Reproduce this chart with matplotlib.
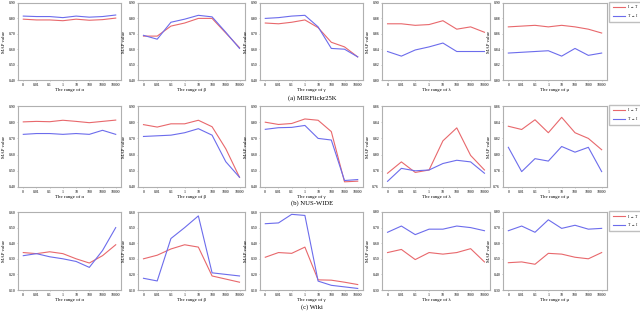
#!/usr/bin/python3
# -*- coding: utf-8 -*-

# parameter sensitivity: 3 datasets x 5 parameters

import matplotlib
matplotlib.use('Agg')
import matplotlib.pyplot as plt

x_labels = ['0', '0.01', '0.1', '1', '10', '100', '1000', '10000']
params = ['α', 'β', 'γ', 'λ', 'μ']
captions = ['(a) MIRFlickr25K', '(b) NUS-WIDE', '(c) Wiki']

# MIRFlickr25K
mir_i2t = [
    [0.795, 0.790, 0.790, 0.785, 0.795, 0.788, 0.792, 0.802],
    [0.685, 0.685, 0.750, 0.770, 0.800, 0.800, 0.705, 0.610],
    [0.770, 0.765, 0.775, 0.790, 0.740, 0.645, 0.615, 0.550],
    [0.873, 0.873, 0.871, 0.872, 0.877, 0.866, 0.869, 0.862],
    [0.869, 0.870, 0.871, 0.869, 0.871, 0.869, 0.866, 0.861],
]
mir_t2i = [
    [0.815, 0.812, 0.812, 0.805, 0.815, 0.808, 0.812, 0.822],
    [0.690, 0.665, 0.775, 0.795, 0.820, 0.810, 0.710, 0.605],
    [0.800, 0.805, 0.815, 0.820, 0.745, 0.605, 0.600, 0.550],
    [0.837, 0.831, 0.839, 0.843, 0.848, 0.837, 0.837, 0.837],
    [0.835, 0.836, 0.837, 0.838, 0.831, 0.841, 0.832, 0.835],
]
# NUS-WIDE
nus_i2t = [
    [0.802, 0.805, 0.803, 0.812, 0.805, 0.797, 0.805, 0.813],
    [0.785, 0.770, 0.790, 0.790, 0.812, 0.772, 0.636, 0.460],
    [0.800, 0.786, 0.792, 0.820, 0.812, 0.742, 0.432, 0.436],
    [0.777, 0.791, 0.778, 0.781, 0.817, 0.833, 0.799, 0.781],
    [0.835, 0.831, 0.843, 0.827, 0.846, 0.827, 0.820, 0.806],
]
nus_t2i = [
    [0.725, 0.730, 0.730, 0.725, 0.730, 0.725, 0.750, 0.725],
    [0.712, 0.716, 0.720, 0.735, 0.760, 0.720, 0.556, 0.460],
    [0.756, 0.766, 0.768, 0.780, 0.700, 0.690, 0.440, 0.446],
    [0.767, 0.783, 0.780, 0.781, 0.789, 0.793, 0.791, 0.777],
    [0.809, 0.779, 0.795, 0.792, 0.810, 0.803, 0.809, 0.779],
]
# Wiki
wiki_i2t = [
    [0.340, 0.333, 0.345, 0.333, 0.300, 0.273, 0.320, 0.390],
    [0.300, 0.323, 0.363, 0.390, 0.375, 0.190, 0.170, 0.150],
    [0.310, 0.340, 0.335, 0.375, 0.165, 0.163, 0.150, 0.135],
    [0.540, 0.560, 0.495, 0.540, 0.530, 0.540, 0.565, 0.480],
    [0.475, 0.480, 0.465, 0.535, 0.530, 0.510, 0.500, 0.540],
]
wiki_t2i = [
    [0.320, 0.333, 0.313, 0.300, 0.283, 0.245, 0.353, 0.500],
    [0.175, 0.158, 0.430, 0.500, 0.575, 0.210, 0.200, 0.190],
    [0.525, 0.530, 0.585, 0.578, 0.157, 0.130, 0.120, 0.110],
    [0.670, 0.710, 0.655, 0.690, 0.690, 0.710, 0.700, 0.680],
    [0.680, 0.710, 0.670, 0.750, 0.695, 0.715, 0.690, 0.695],
]

y_ranges = [
    [(0.40, 0.90, 0.10)] * 3 + [(0.80, 0.90, 0.02)] * 2,
    [(0.40, 0.90, 0.10)] * 3 + [(0.76, 0.86, 0.02)] * 2,
    [(0.10, 0.60, 0.10)] * 3 + [(0.30, 0.80, 0.10)] * 2,
]

RED = '#e8686c'
BLUE = '#6c6cec'
W, H = 640.0, 321.0


def px_axes(fig, left, top, width, height):
    return fig.add_axes([left / W, 1 - (top + height) / H, width / W, height / H])


def main():
    plt.rcParams['font.family'] = ['Liberation Serif', 'DejaVu Serif']

    fig = plt.figure(figsize=(6.4, 3.21), dpi=100)

    lefts = [18, 138, 260, 382, 503]
    widths = [103, 107, 103, 108, 104]
    tops = [3, 106, 212]
    heights = [77, 81, 78]
    cap_y = [98, 203, 307]

    i2t_all = [mir_i2t, nus_i2t, wiki_i2t]
    t2i_all = [mir_t2i, nus_t2i, wiki_t2i]

    xs = list(range(len(x_labels)))
    for r in range(3):
        for c in range(5):
            ax = px_axes(fig, lefts[c], tops[r], widths[c], heights[r])
            l1, = ax.plot(xs, i2t_all[r][c], color=RED, lw=0.8)
            l2, = ax.plot(xs, t2i_all[r][c], color=BLUE, lw=0.8)
            lo, hi, st = y_ranges[r][c]
            ax.set_ylim(lo, hi)
            n = int(round((hi - lo) / st))
            ticks = [lo + k * st for k in range(n + 1)]
            ax.set_yticks(ticks)
            ax.set_yticklabels(['%.2f' % t for t in ticks])
            ax.set_xlim(-0.4, 7.4)
            ax.set_xticks(xs)
            ax.set_xticklabels(x_labels)
            ax.tick_params(labelsize=2.8, length=1.0, width=0.4, pad=1.0,
                           color='#999999')
            for s in ax.spines.values():
                s.set_color('#b0b0b0')
                s.set_linewidth(0.8)
            ax.set_xlabel('The range of ' + params[c], fontsize=3.5, labelpad=1.0)
            ax.set_ylabel('MAP value', fontsize=3.5, labelpad=1.5)
            if c == 4:
                fig.legend([l1, l2], ['I → T', 'T → I'],
                           loc='upper left',
                           bbox_to_anchor=(609 / W, 1 - (tops[r] - 1) / H),
                           fontsize=2.8, frameon=True, fancybox=False,
                           edgecolor='#b0b0b0', handlelength=3.2,
                           handletextpad=0.8, borderpad=0.9,
                           labelspacing=1.2, borderaxespad=0)
        fig.text(312 / W, 1 - cap_y[r] / H, captions[r], fontsize=4.8,
                 ha='center', va='center')

    fig.savefig('out.png', dpi=100)


if __name__ == '__main__':
    main()
